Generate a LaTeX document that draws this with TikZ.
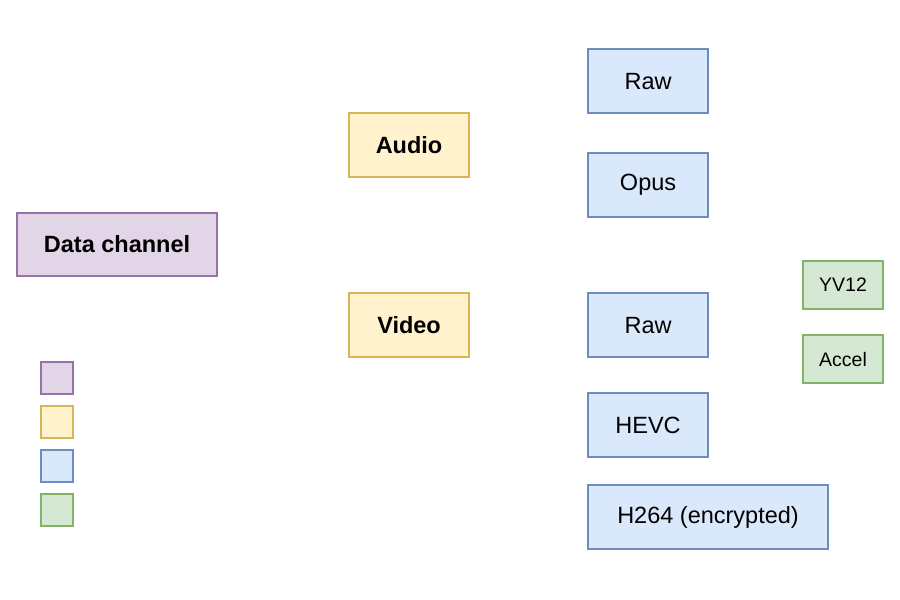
\documentclass[tikz,border=0pt]{standalone}
\usepackage{fontspec}
\setmainfont{Liberation Sans}
\definecolor{pfill}{HTML}{E1D5E7}\definecolor{pdraw}{HTML}{9673A6}
\definecolor{yfill}{HTML}{FFF2CC}\definecolor{ydraw}{HTML}{D6B656}
\definecolor{bfill}{HTML}{DAE8FC}\definecolor{bdraw}{HTML}{6C8EBF}
\definecolor{gfill}{HTML}{D5E8D4}\definecolor{gdraw}{HTML}{82B366}
\begin{document}
\begin{tikzpicture}[x=1pt,y=-1pt,
  box/.style={draw, line width=1.5pt, inner sep=0pt, anchor=north west},
  purplebox/.style={box, fill=pfill, draw=pdraw},
  yellowbox/.style={box, fill=yfill, draw=ydraw},
  bluebox/.style={box, fill=bfill, draw=bdraw},
  greenbox/.style={box, fill=gfill, draw=gdraw},
  big/.style={font=\fontsize{23.5}{27}\selectfont},
  bigb/.style={font=\fontsize{23.5}{27}\selectfont\bfseries},
  small/.style={font=\fontsize{19.5}{23}\selectfont}]
\useasboundingbox (0,0) rectangle (900,600);
\begin{scope}[shift={(-0.7,-0.7)}]
\node[purplebox, bigb, minimum width=200pt, minimum height=63pt] (data) at (17,213) {Data channel};
\node[yellowbox, bigb, minimum width=120pt, minimum height=64pt] (audio) at (349,113) {Audio};
\node[yellowbox, bigb, minimum width=120pt, minimum height=64pt] (video) at (349,293) {Video};
\node[bluebox, big, minimum width=120pt, minimum height=64pt] (araw) at (588,49) {Raw};
\node[bluebox, big, minimum width=120pt, minimum height=64pt] (opus) at (588,153) {Opus};
\node[bluebox, big, minimum width=120pt, minimum height=64pt] (vraw) at (588,293) {Raw};
\node[bluebox, big, minimum width=120pt, minimum height=64pt] (hevc) at (588,393) {HEVC};
\node[bluebox, big, minimum width=240pt, minimum height=64pt] (h264) at (588,485) {H264 (encrypted)};
\node[greenbox, small, minimum width=80pt, minimum height=48pt] (yv12) at (803,261) {YV12};
\node[greenbox, small, minimum width=80pt, minimum height=48pt] (accel) at (803,335) {Accel};
\node[purplebox, minimum width=32pt, minimum height=32pt] (lp) at (41,362) {};
\node[yellowbox, minimum width=32pt, minimum height=32pt] (ly) at (41,406) {};
\node[bluebox, minimum width=32pt, minimum height=32pt] (lb) at (41,450) {};
\node[greenbox, minimum width=32pt, minimum height=32pt] (lg) at (41,494) {};
\end{scope}
\end{tikzpicture}
\end{document}
